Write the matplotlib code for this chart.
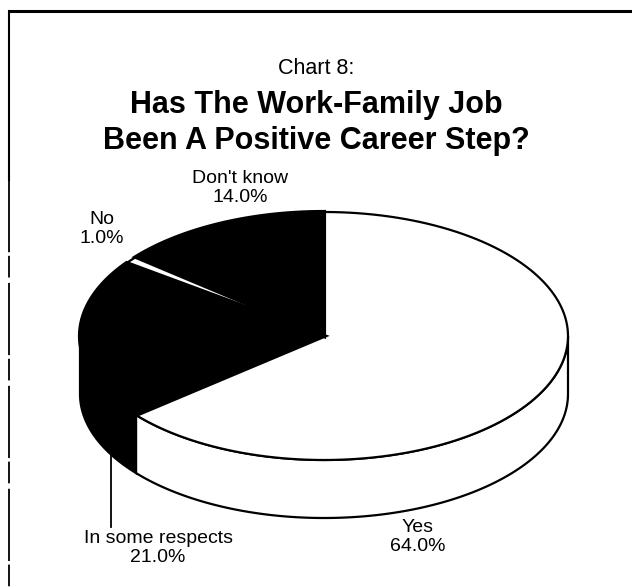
import numpy as np
import matplotlib
matplotlib.use("Agg")
import matplotlib.pyplot as plt
from matplotlib.patches import Polygon

plt.rcParams['font.family'] = ['Liberation Sans', 'DejaVu Sans']

labels = ["Yes", "In some respects", "No", "Don't know"]
shares = [64.0, 21.0, 1.0, 14.0]
colors = ["white", "black", "white", "black"]

title_small = "Chart 8:"
title_lines = ["Has The Work-Family Job", "Been A Positive Career Step?"]

# pie geometry, in pixels (y grows downward)
CX, CY = 324, 336
RX, RY = 244, 124
DEPTH = 58


def rim(t0, t1, drop=0.0, n=120):
    t = np.radians(np.linspace(t0, t1, n))
    return np.column_stack([CX + RX * np.cos(t), CY - RY * np.sin(t) + drop])


def main():
    fig = plt.figure(figsize=(6.32, 5.88), dpi=100)
    ax = fig.add_axes([0, 0, 1, 1])
    ax.set_xlim(0, 632)
    ax.set_ylim(588, 0)
    ax.axis("off")

    # slice angle ranges, clockwise from twelve o'clock
    bounds = 90 - 3.6 * np.concatenate([[0], np.cumsum(shares)])
    spans = list(zip(bounds[:-1], bounds[1:]))

    # side walls: only the front half (angles between -180 and 0) shows
    for (a0, a1), c in zip(spans, colors):
        lo, hi = max(a1, -180), min(a0, 0)
        if hi <= lo:
            continue
        top = rim(hi, lo)
        bot = rim(lo, hi, DEPTH)
        ax.add_patch(Polygon(np.vstack([top, bot]), closed=True,
                             facecolor=c, edgecolor="black", lw=1.6, zorder=1))

    # top faces: white slices first, black ones over them with heavy edges
    order = sorted(range(len(shares)), key=lambda i: colors[i] == "black")
    for i in order:
        a0, a1 = spans[i]
        pts = np.vstack([[CX, CY], rim(a0, a1)])
        lw = 3.0 if colors[i] == "black" else 1.6
        ax.add_patch(Polygon(pts, closed=True, facecolor=colors[i],
                             edgecolor="black", lw=lw, joinstyle="miter", zorder=2))

    # leader for the side-wall slice
    t = np.radians(-151)
    lx = CX + RX * np.cos(t)
    ly = CY - RY * np.sin(t) + DEPTH
    ax.plot([lx, lx], [ly, 527], color="black", lw=1.3, zorder=3)

    label_xy = {"Yes": (418, 537), "In some respects": (158, 548),
                "No": (102, 229), "Don't know": (240, 188)}
    for name, val in zip(labels, shares):
        x, y = label_xy[name]
        ax.text(x, y, f"{name}\n{val:.1f}%", ha="center", va="center",
                fontsize=14, linespacing=1.12, zorder=4)

    ax.text(316, 68, title_small, ha="center", va="center", fontsize=15.5)
    for y, line in zip([105, 141], title_lines):
        ax.text(316, y, line, ha="center", va="center", fontsize=22,
                fontweight="bold")

    # frame
    ax.plot([9, 632], [11, 11], color="black", lw=2.2, solid_capstyle="butt")
    ax.plot([9, 9], [11, 180], color="black", lw=1.5)
    ax.plot([9, 9], [180, 588], color="black", lw=1.3, dashes=(40, 2, 12, 3))

    fig.savefig("out.png", dpi=100)


if __name__ == "__main__":
    main()
